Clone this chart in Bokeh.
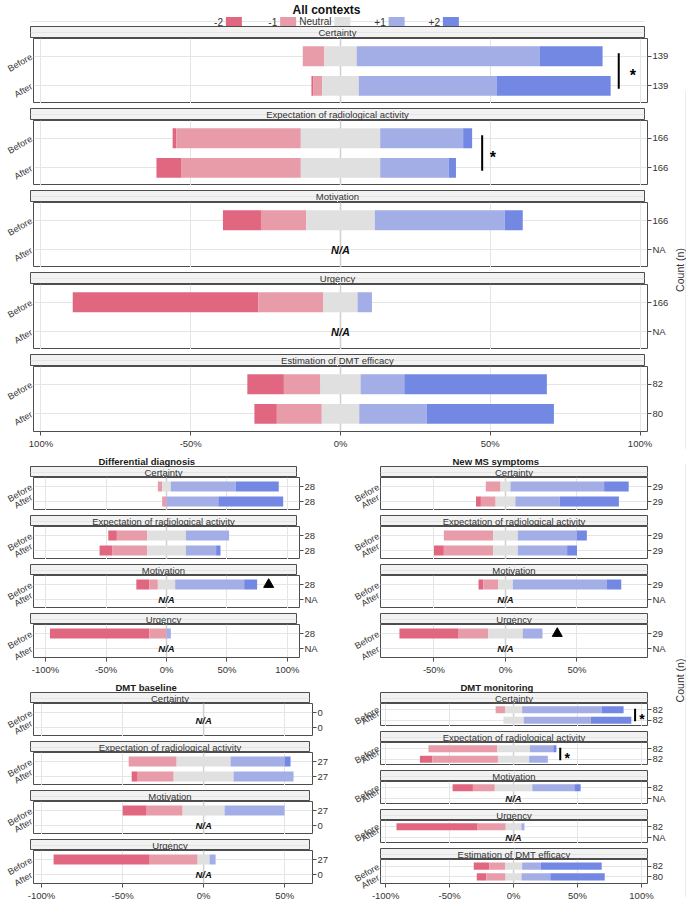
import math
from bokeh.plotting import figure
from bokeh.layouts import column, row
from bokeh.models import (FactorRange, Range1d, CategoricalAxis, LinearAxis, FixedTicker,
                          Span, ColumnDataSource, CustomJSTickFormatter)
from bokeh.core.properties import value
from bokeh.embed import file_html
from bokeh.resources import INLINE

FONT = "Liberation Sans"
TFONT = "Liberation Sans"
FRAME = "#4D4D4D"
TXT = "#333333"
FS = "9.5px"

levels = ["-2", "-1", "Neutral", "+1", "+2"]
level_colors = ["#E0677F", "#E89CA9", "#E0E0E0", "#A3AEE6", "#7388E3"]
rows = ["After", "Before"]

# ---------------- All contexts ----------------
all_items = ["Certainty", "Expectation of radiological activity", "Motivation", "Urgency",
             "Estimation of DMT efficacy"]
all_before = [[0, 7.2, 10.8, 61.2, 20.9], [1.2, 41.6, 26.5, 27.7, 3.0], [12.7, 15.1, 22.9, 43.4, 6.0],
              [62.0, 21.7, 11.4, 4.8, 0], [12.2, 12.2, 13.4, 14.6, 47.6]]
all_after = [[0.7, 2.9, 12.2, 46.0, 38.1], [8.4, 39.8, 26.5, 22.9, 2.4], None, None,
             [7.5, 15.0, 12.5, 22.5, 42.5]]
all_n_before = ["139", "166", "166", "166", "82"]
all_n_after = ["139", "166", "NA", "NA", "80"]
all_ticks = [-100, -50, 0, 50, 100]
all_tick_labels = ["100%", "-50%", "0%", "50%", "100%"]
all_sig = [("Certainty", 92.9, 97.6), ("Expectation of radiological activity", 47.3, 50.9)]
all_tri = []

# ---------------- Differential diagnosis ----------------
diff_items = ["Certainty", "Expectation of radiological activity", "Motivation", "Urgency"]
diff_before = [[0, 3.6, 7.1, 53.6, 35.7], [7.1, 25.0, 32.1, 35.7, 0], [10.7, 7.1, 14.3, 57.1, 10.7],
               [82.1, 14.3, 0, 3.6, 0]]
diff_after = [[0, 3.6, 0, 42.9, 53.6], [10.7, 28.6, 32.1, 25.0, 3.6], None, None]
diff_n_before = ["28", "28", "28", "28"]
diff_n_after = ["28", "28", "NA", "NA"]
diff_ticks = [-100, -50, 0, 50, 100]
diff_tick_labels = ["-100%", "-50%", "0%", "50%", "100%"]
diff_sig = []
diff_tri = [("Motivation", 84.5)]

# ---------------- New MS symptoms ----------------
newms_items = ["Certainty", "Expectation of radiological activity", "Motivation", "Urgency"]
newms_before = [[0, 10.3, 6.9, 65.5, 17.2], [0, 34.5, 17.2, 41.4, 6.9], [3.4, 10.3, 10.3, 65.5, 10.3],
                [41.4, 20.7, 24.1, 13.8, 0]]
newms_after = [[3.4, 10.3, 13.8, 31.0, 41.4], [6.9, 34.5, 17.2, 34.5, 6.9], None, None]
newms_n_before = ["29", "29", "29", "29"]
newms_n_after = ["29", "29", "NA", "NA"]
newms_ticks = [-50, 0, 50]
newms_tick_labels = ["-50%", "0%", "50%"]
newms_sig = []
newms_tri = [("Urgency", 36.2)]

# ---------------- DMT baseline ----------------
base_items = ["Certainty", "Expectation of radiological activity", "Motivation", "Urgency"]
base_before = [None, [0, 29.6, 33.3, 33.3, 3.7], [14.8, 22.2, 25.9, 37.0, 0], [59.3, 29.6, 7.4, 3.7, 0]]
base_after = [None, [3.7, 22.2, 37.0, 37.0, 0], None, None]
base_n_before = ["0", "27", "27", "27"]
base_n_after = ["0", "27", "0", "0"]
base_ticks = [-100, -50, 0, 50]
base_tick_labels = ["-100%", "-50%", "0%", "50%"]
base_sig = []
base_tri = []

# ---------------- DMT monitoring ----------------
mon_items = ["Certainty", "Expectation of radiological activity", "Motivation", "Urgency",
             "Estimation of DMT efficacy"]
mon_before = [[0, 7.3, 13.4, 62.2, 17.1], [0, 53.7, 25.6, 18.3, 2.4], [15.9, 17.1, 29.3, 32.9, 4.9],
              [63.4, 22.0, 12.2, 2.4, 0], [12.2, 12.2, 13.4, 14.6, 47.6]]
mon_after = [[0, 0, 15.9, 52.4, 31.7], [9.8, 51.2, 24.4, 14.6, 0], None, None,
             [7.5, 15.0, 12.5, 22.5, 42.5]]
mon_n_before = ["82", "82", "82", "82", "82"]
mon_n_after = ["82", "82", "NA", "NA", "80"]
mon_ticks = [-100, -50, 0, 50, 100]
mon_tick_labels = ["-100%", "-50%", "0%", "50%", "100%"]
mon_sig = [("Certainty", 95.0, 100.3), ("Expectation of radiological activity", 36.5, 42.0)]
mon_tri = []


def segs(vals):
    start = -vals[2] / 2 - vals[1] - vals[0]
    out = []
    for lvl, w, c in zip(levels, vals, level_colors):
        if w > 0:
            out.append((start, start + w, c))
        start += w
    return out


def base_fig(**kw):
    p = figure(toolbar_location=None, output_backend="svg", x_axis_location=None,
               y_axis_location=None, frame_align=False, **kw)
    p.border_fill_color = "white"
    return p


def strip_fig(item, fw, lb, rb, top, strip_h, sec_title=None, title_off=0):
    s = base_fig(frame_width=fw, frame_height=strip_h, title=sec_title,
                 x_range=FactorRange(factors=[item]), y_range=FactorRange(factors=[item]),
                 min_border_left=lb, min_border_right=rb, min_border_top=top, min_border_bottom=0)
    s.background_fill_color = "#F2F2F2"
    s.outline_line_color = FRAME
    if sec_title:
        s.title.align = "left"
        s.title.offset = title_off
        s.title.standoff = 0
        s.title.vertical_align = "bottom"
        s.title.text_font = FONT
        s.title.text_font_size = FS
        s.title.text_font_style = "bold"
        s.title.text_color = "#1A1A1A"
    s.text(x=[item], y=[item], text=[item], text_align="center", text_baseline="middle",
           text_font=value(FONT), text_font_size=FS, text_color=TXT)
    return s


def body_fig(item, bv, av, nb, na, xr, fw, lb, rb, h, axis_h, ticks, tick_labels, sig, tri, big):
    p = base_fig(frame_width=fw, frame_height=h, x_range=xr, title=None,
                 y_range=FactorRange(factors=rows, range_padding=0.1),
                 min_border_left=lb, min_border_right=rb, min_border_top=0, min_border_bottom=axis_h)
    p.outline_line_color = FRAME
    p.add_layout(Span(location=0, dimension="height", line_color="#D0D0D0", line_width=1.5,
                      level="underlay"))
    data = dict(y=[], left=[], right=[], color=[])
    for rname, vals in (("Before", bv), ("After", av)):
        if vals is None:
            continue
        for l, r, c in segs(vals):
            data["y"].append(rname)
            data["left"].append(l)
            data["right"].append(r)
            data["color"].append(c)
    p.hbar(y="y", left="left", right="right", height=0.67, fill_color="color", line_color=None,
           source=ColumnDataSource(data))
    missing = [r for r, v in (("Before", bv), ("After", av)) if v is None]
    if missing:
        ypos = [("After", 0.5)] if len(missing) == 2 else [missing[0]]
        p.text(x=[0], y=ypos, text=["N/A"], text_align="center", text_baseline="middle",
               text_font=value(FONT), text_font_style="bold italic",
               text_font_size="11px" if big else "9.5px", text_color="#111111")
    for it, xb, xs in sig:
        if it == item:
            p.segment(x0=[xb], y0=[("Before", 0.1)], x1=[xb], y1=[("After", -0.1)],
                      line_width=2, line_color="black")
            p.text(x=[xs], y=[("After", 0.5)], text=["*"], text_align="center",
                   text_baseline="middle", text_font=value(TFONT), text_font_style="bold",
                   text_font_size="16px" if big else "14px", y_offset=4, text_color="black")
    for it, xt in tri:
        if it == item:
            p.scatter(x=[xt], y=["Before"], marker="triangle", size=10, color="black")
    la = CategoricalAxis(major_label_orientation=math.radians(30), major_tick_out=0,
                         major_tick_in=0, axis_line_color=None, major_label_standoff=2,
                         major_label_text_font=FONT, major_label_text_font_size="9px",
                         major_label_text_color=TXT)
    p.add_layout(la, "left")
    fmt = CustomJSTickFormatter(args=dict(labels={"Before": nb, "After": na}),
                                code="return labels[tick];")
    ra = CategoricalAxis(formatter=fmt, major_tick_out=4,
                         major_tick_in=0, axis_line_color=None, major_tick_line_color=FRAME,
                         major_label_standoff=1, major_label_text_font=FONT,
                         major_label_text_font_size=FS, major_label_text_color=TXT)
    p.add_layout(ra, "right")
    if axis_h:
        xa = LinearAxis(ticker=FixedTicker(ticks=ticks),
                        major_label_overrides={t: s for t, s in zip(ticks, tick_labels)},
                        major_tick_out=4, major_tick_in=0, minor_tick_out=0, minor_tick_in=0,
                        axis_line_color=None, major_tick_line_color=FRAME, major_label_standoff=2,
                        major_label_text_font=FONT, major_label_text_font_size=FS,
                        major_label_text_color=TXT)
        p.add_layout(xa, "below")
    return p


def section(items, before, after, nb, na, xr, ticks, tick_labels, sig, tri, fw, lb, rb,
            strip_h, body_hs, gap, axis_h, sec_title=None, title_off=0, title_h=0, big=False):
    figs = []
    for i, item in enumerate(items):
        first = i == 0
        top = (title_h if sec_title else 0) if first else gap
        figs.append(strip_fig(item, fw, lb, rb, top, strip_h, sec_title if first else None, title_off))
        last = i == len(items) - 1
        figs.append(body_fig(item, before[i], after[i], nb[i], na[i], xr, fw, lb, rb, body_hs[i],
                             axis_h if last else 0, ticks, tick_labels, sig, tri, big))
    return figs


# ---------------- header (title + legend keys) ----------------
HEAD_H = 26
header = base_fig(frame_width=614, frame_height=HEAD_H - 16, title="All contexts",
                  x_range=FactorRange(factors=levels, range_padding=1.2636),
                  y_range=FactorRange(factors=["key"]),
                  min_border_left=30, min_border_right=21,
                  min_border_top=16, min_border_bottom=0)
header.outline_line_color = None
header.background_fill_color = None
header.title.align = "left"
header.title.offset = 262
header.title.standoff = 0
header.title.vertical_align = "bottom"
header.title.text_font = TFONT
header.title.text_font_size = "12px"
header.title.text_font_style = "bold"
header.title.text_color = "#111111"
key_y = ["key"] * len(levels)
header.rect(x=[(lv, 0.09) for lv in levels], y=key_y, width=16, height=9, width_units="screen",
            height_units="screen", fill_color=level_colors, line_color=None)
header.text(x=levels, y=key_y, text=levels, x_offset=-6, text_align="right",
            text_baseline="middle", text_font=value(FONT), text_font_size="10px", text_color=TXT)

all_figs = section(all_items, all_before, all_after, all_n_before, all_n_after,
                   Range1d(-102.5, 102.5), all_ticks, all_tick_labels, all_sig, all_tri,
                   614, 30, 21, 12, [65] * 5, 5, 18, big=True)

diff_figs = section(diff_items, diff_before, diff_after, diff_n_before, diff_n_after,
                    Range1d(-110, 110), diff_ticks, diff_tick_labels, diff_sig, diff_tri,
                    266, 30, 41, 11, [33] * 4, 5, 18, "Differential diagnosis", 68, 15)
newms_figs = section(newms_items, newms_before, newms_after, newms_n_before, newms_n_after,
                     Range1d(-87.4, 99.3), newms_ticks, newms_tick_labels, newms_sig, newms_tri,
                     267, 40, 21, 11, [33] * 4, 5, 18, "New MS symptoms", 72, 15)
base_figs = section(base_items, base_before, base_after, base_n_before, base_n_after,
                    Range1d(-105, 67.2), base_ticks, base_tick_labels, base_sig, base_tri,
                    279, 30, 28, 11, [33] * 4, 5, 18, "DMT baseline", 85, 15)
mon_figs = section(mon_items, mon_before, mon_after, mon_n_before, mon_n_after,
                   Range1d(-104, 104.7), mon_ticks, mon_tick_labels, mon_sig, mon_tri,
                   267, 40, 21, 11, [23, 23, 23, 23, 24], 5, 18, "DMT monitoring", 80, 15)

main = column(header, *all_figs,
              row(column(*diff_figs, spacing=0), column(*newms_figs, spacing=0), spacing=0),
              row(column(*base_figs, spacing=0), column(*mon_figs, spacing=0), spacing=0),
              spacing=0)

top_h = HEAD_H + 5 * 12 + 4 * 5 + 5 * 65 + 18
bot_h = 2 * (15 + 11 + 3 * 16 + 4 * 33 + 18)


def count_fig(h, t, b):
    c = base_fig(width=15, height=h, title="Count (n)", title_location="left",
                 x_range=Range1d(0, 1), y_range=Range1d(0, 1), min_border_left=0,
                 min_border_right=0, min_border_top=t, min_border_bottom=b)
    c.outline_line_color = None
    c.background_fill_color = None
    c.border_fill_color = None
    c.title.align = "center"
    c.title.standoff = 0
    c.title.text_font = TFONT
    c.title.text_font_size = "10.5px"
    c.title.text_font_style = "normal"
    c.title.text_color = TXT
    return c


cA = count_fig(top_h, 90, 0)
cB = count_fig(bot_h, 14, 0)
root = row(main, column(cA, cB, spacing=0), spacing=0)

open("out.html", "w").write(file_html(root, INLINE))
print(top_h, bot_h, top_h + bot_h + 8)
